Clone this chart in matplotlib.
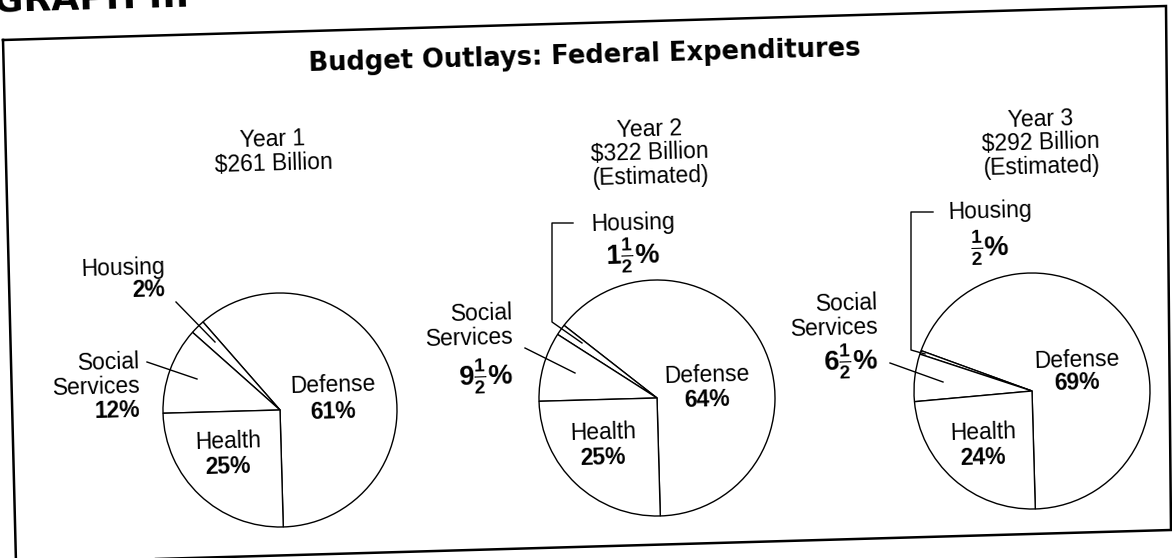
import matplotlib.pyplot as plt

# data (percent of outlays per category)
categories = ['Defense', 'Housing', 'Social\nServices', 'Health']
year_titles = ['Year 1\n\\$261 Billion',
               'Year 2\n\\$322 Billion\n(Estimated)',
               'Year 3\n\\$292 Billion\n(Estimated)']
year1 = [61, 2, 12, 25]
year2 = [64, 1.5, 9.5, 25]
year3 = [69, 0.5, 6.5, 24]
pct1 = ['61%', '2%', '12%', '25%']
pct2 = ['64%', r'$\mathbf{1\frac{1}{2}\%}$', r'$\mathbf{9\frac{1}{2}\%}$', '25%']
pct3 = ['69%', r'$\mathbf{\frac{1}{2}\%}$', r'$\mathbf{6\frac{1}{2}\%}$', '24%']

W, H = 1172, 558
TILT = 1.6  # the scan is slightly rotated

plt.rcParams['font.family'] = ['Liberation Sans', 'DejaVu Sans']
plt.rcParams['mathtext.fontset'] = 'custom'
plt.rcParams['mathtext.rm'] = 'Liberation Sans'
plt.rcParams['mathtext.bf'] = 'Liberation Sans:bold'


def Y(y):
    # picture rows run downward, axes y runs upward
    return H - y


# layout of each pie: centre, radius, label spots (x, y_name, y_pct, ha)
layout = [
    dict(values=year1, pcts=pct1, center=(280, 410), r=117, title=(273, 152),
         spots=[(333, 385, 412, 'center'), (165, 267, 290, 'right'),
                (140, 374, 410, 'right'), (228, 442, 467, 'center')],
         leaders=[[(176, 302), (215, 342)], [(147, 362), (197, 379)]]),
    dict(values=year2, pcts=pct2, center=(657, 398), r=118, title=(650, 153),
         spots=[(707, 375, 400, 'center'), (633, 223, 256, 'center'),
                (513, 325, 376, 'right'), (603, 433, 458, 'center')],
         leaders=[[(573, 223), (552, 223), (552, 322), (582, 343)],
                  [(525, 348), (575, 373)]]),
    dict(values=year3, pcts=pct3, center=(1032, 391), r=118, title=(1041, 143),
         spots=[(1077, 360, 383, 'center'), (990, 211, 248, 'center'),
                (878, 315, 361, 'right'), (983, 433, 458, 'center')],
         leaders=[[(933, 212), (911, 212), (911, 350), (925, 354)],
                  [(890, 363), (943, 382)]]),
]

fig = plt.figure(figsize=(W / 100, H / 100), dpi=100)
ax = fig.add_axes([0, 0, 1, 1])

for p in layout:
    cx, cy = p['center']
    ax.pie(p['values'], startangle=-90 + TILT, counterclock=True,
           center=(cx, Y(cy)), radius=p['r'],
           wedgeprops=dict(facecolor='white', edgecolor='black', linewidth=1.0))
    for name, pct, (x, yn, yp, ha) in zip(categories, p['pcts'], p['spots']):
        ax.text(x, Y(yn), name, ha=ha, va='center', fontsize=16.5, linespacing=1.05,
                multialignment=ha if ha != 'center' else 'center',
                rotation=TILT, rotation_mode='anchor')
        # fractions shrink inside mathtext, so those labels get a larger size
        size = 19.5 if '$' in pct else 16.5
        ax.text(x, Y(yp), pct, ha=ha, va='center', fontsize=size, fontweight='bold',
                rotation=TILT, rotation_mode='anchor')
    for line in p['leaders']:
        xs = [pt[0] for pt in line]
        ys = [Y(pt[1]) for pt in line]
        ax.plot(xs, ys, color='black', linewidth=1.0)

for p, t in zip(layout, year_titles):
    ax.text(p['title'][0], Y(p['title'][1]), t, ha='center', va='center',
            fontsize=16.5, linespacing=1.05, rotation=TILT, rotation_mode='anchor')

ax.text(585, Y(56), 'Budget Outlays: Federal Expenditures', ha='center', va='center',
        fontsize=18.5, fontweight='bold', family='DejaVu Sans',
        rotation=TILT, rotation_mode='anchor')
ax.text(-6, Y(12), 'GRAPH III', ha='left', va='baseline', fontsize=26,
        fontweight='bold', family='DejaVu Sans', rotation=TILT, rotation_mode='anchor')

# frame of the figure box
frame = [(3, 40), (1166, 6), (1171, 530), (16, 563), (3, 40)]
ax.plot([pt[0] for pt in frame], [Y(pt[1]) for pt in frame], color='black',
        linewidth=1.8, solid_joinstyle='miter')

ax.set_xlim(0, W)
ax.set_ylim(0, H)
ax.set_aspect('auto')
ax.axis('off')

fig.savefig('out.png', dpi=100, facecolor='white')
